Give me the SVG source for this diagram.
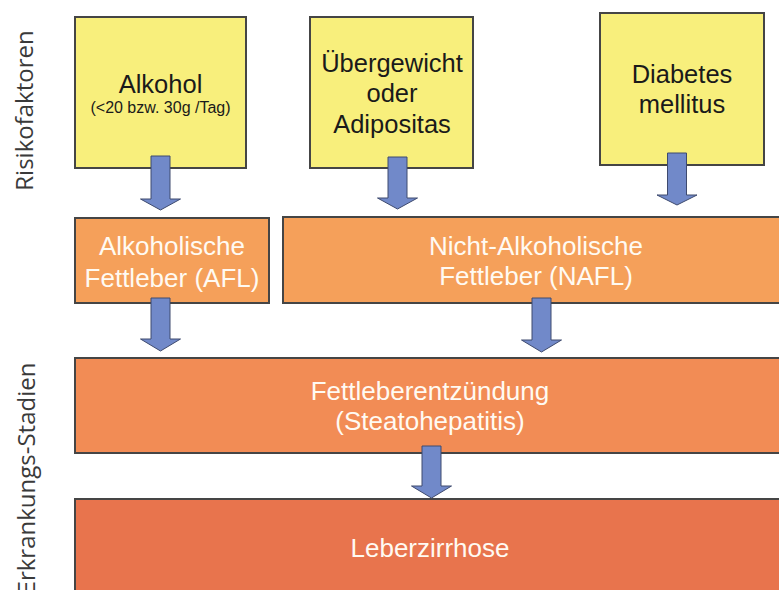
<svg xmlns="http://www.w3.org/2000/svg" width="779" height="590" viewBox="0 0 779 590">
<defs>
<style>
.box{stroke:#454545;stroke-width:2}
.y{fill:#f8ef7c}
.o1{fill:#f5a05a}
.o2{fill:#f28c55}
.o3{fill:#e8744d}
.arr{fill:#7189c9;stroke:#3e4a6e;stroke-width:1}
.t{font-family:"Liberation Sans",Arial,sans-serif;text-anchor:middle}
.dk{fill:#1a1a1a;font-size:25.5px}
.wt{fill:#fffaf2;font-size:26px}
.side{font-family:"Open Sans","Noto Sans",sans-serif;font-size:24px;fill:#3a3a3a;text-anchor:middle}
</style>
</defs>
<rect width="779" height="590" fill="#ffffff"/>
<g id="label-risikofaktoren"><text class="side" transform="translate(33,110.5) rotate(-90)">Risikofaktoren</text></g>
<g id="label-stadien"><text class="side" transform="translate(35,478.5) rotate(-90)">Erkrankungs-Stadien</text></g>

<g id="alkohol">
<rect class="box y" x="75" y="17" width="171" height="151"/>
<text class="t dk" x="160.5" y="93">Alkohol</text>
<text class="t" x="160.5" y="113" style="font-size:16px;fill:#1a1a1a">(&lt;20 bzw. 30g /Tag)</text>
</g>
<g id="uebergewicht">
<rect class="box y" x="310" y="17" width="163" height="151"/>
<text class="t dk" x="392" y="72">Übergewicht</text>
<text class="t dk" x="392" y="102">oder</text>
<text class="t dk" x="392" y="133">Adipositas</text>
</g>
<g id="diabetes">
<rect class="box y" x="600" y="13" width="164" height="152"/>
<text class="t dk" x="682" y="83">Diabetes</text>
<text class="t dk" x="682" y="113">mellitus</text>
</g>
<g id="afl">
<rect class="box o1" x="75" y="218" width="194" height="85"/>
<text class="t wt" x="172" y="255">Alkoholische</text>
<text class="t wt" x="172" y="287">Fettleber (AFL)</text>
</g>
<g id="nafl">
<rect class="box o1" x="283" y="217" width="510" height="86"/>
<text class="t wt" x="536" y="255">Nicht-Alkoholische</text>
<text class="t wt" x="536" y="285">Fettleber (NAFL)</text>
</g>
<g id="steatohepatitis">
<rect class="box o2" x="75" y="358" width="718" height="95"/>
<text class="t wt" x="430" y="400">Fettleberentzündung</text>
<text class="t wt" x="430" y="430">(Steatohepatitis)</text>
</g>
<g id="zirrhose">
<rect class="box o3" x="75" y="499" width="718" height="100"/>
<text class="t wt" x="430" y="557">Leberzirrhose</text>
</g>

<g id="connectors">
<path class="arr" d="M151,156 H170 V199 H180.5 L160.5,210 L140.5,199 H151 Z"/>
<path class="arr" d="M388,157 H407 V198 H417.5 L397.5,209 L377.5,198 H388 Z"/>
<path class="arr" d="M667.5,153 H686.5 V195 H697 L677,205 L657,195 H667.5 Z"/>
<path class="arr" d="M151,298 H170 V339 H180.5 L160.5,351 L140.5,339 H151 Z"/>
<path class="arr" d="M532,298 H551 V340 H561.5 L541.5,352 L521.5,340 H532 Z"/>
<path class="arr" d="M422,446 H441 V486 H451.5 L431.5,498 L411.5,486 H422 Z"/>
</g>
</svg>
